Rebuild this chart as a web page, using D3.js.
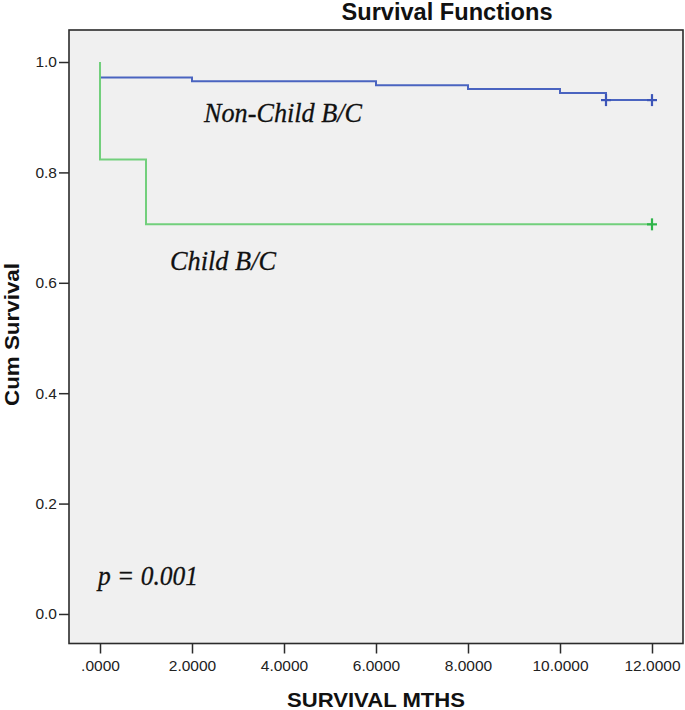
<!DOCTYPE html>
<html><head><meta charset="utf-8">
<script src="https://cdn.jsdelivr.net/npm/d3@7"></script>
<style>body{margin:0;background:#fff}svg{display:block}</style>
</head><body>
<svg id="c" width="685" height="710"></svg>
<script>
// Data
const nonChildTimes = [0, 0, 2, 6, 8, 10, 11, 12];
const nonChildSurv  = [1.0, 0.972, 0.965, 0.958, 0.951, 0.944, 0.931, 0.931];
const nonChildCensored = [11, 12];
const childTimes = [0, 0, 1, 12];
const childSurv  = [1.0, 0.8235, 0.7059, 0.7059];
const childCensored = [12];
const xTicks = [0, 2, 4, 6, 8, 10, 12];
const xTickLabels = [".0000", "2.0000", "4.0000", "6.0000", "8.0000", "10.0000", "12.0000"];
const yTicks = [0, 0.2, 0.4, 0.6, 0.8, 1.0];
const yTickLabels = ["0.0", "0.2", "0.4", "0.6", "0.8", "1.0"];

const svg = d3.select("#c");
const L = 69, R = 683, T = 30, B = 643.5;
const x = d3.scaleLinear().domain([-0.674, 12.674]).range([L, R]);
const y = d3.scaleLinear().domain([-0.0535, 1.058]).range([B, T]);

svg.append("rect").attr("x", L).attr("y", T).attr("width", R - L).attr("height", B - T)
  .attr("fill", "#f0f0f0");

const blue = "#4a64c0", green = "#72cf7c";
const line = d3.line().x(d => x(d[0])).y(d => y(d[1])).curve(d3.curveStepAfter);

function drawCurve(times, surv, cens, col, censCol) {
  const pts = times.map((t, i) => [t, surv[i]]);
  svg.append("path").attr("d", line(pts)).attr("fill", "none")
    .attr("stroke", col).attr("stroke-width", 2);
  const lastAt = t => { let v = surv[0]; times.forEach((tt, i) => { if (tt <= t) v = surv[i]; }); return v; };
  cens.forEach(t => {
    const cx = x(t), cy = y(lastAt(t));
    svg.append("line").attr("x1", cx).attr("x2", cx).attr("y1", cy - 6).attr("y2", cy + 6)
      .attr("stroke", censCol).attr("stroke-width", 2.2);
    svg.append("line").attr("x1", cx - 5).attr("x2", cx + 5).attr("y1", cy).attr("y2", cy)
      .attr("stroke", censCol).attr("stroke-width", 2.2);
  });
}
drawCurve(nonChildTimes, nonChildSurv, nonChildCensored, blue, "#3c55b8");
drawCurve(childTimes, childSurv, childCensored, green, "#2fb44a");

svg.append("rect").attr("x", L).attr("y", T).attr("width", R - L).attr("height", B - T)
  .attr("fill", "none").attr("stroke", "#2b2b2b").attr("stroke-width", 1.6);

const sans = "Liberation Sans, Arial, sans-serif";
// Axes
const yAxis = d3.axisLeft(y).tickValues(yTicks).tickFormat((d, i) => yTickLabels[i]).tickSize(10).tickPadding(2);
const gy = svg.append("g").attr("transform", `translate(${L},0)`).call(yAxis);
gy.select(".domain").remove();
gy.selectAll("line").attr("stroke", "#2b2b2b").attr("stroke-width", 1.5);
gy.selectAll("text").attr("font-family", sans).attr("font-size", 15.5).attr("fill", "#222");

const xAxis = d3.axisBottom(x).tickValues(xTicks).tickFormat((d, i) => xTickLabels[i]).tickSize(10).tickPadding(6);
const gx = svg.append("g").attr("transform", `translate(0,${B})`).call(xAxis);
gx.select(".domain").remove();
gx.selectAll("line").attr("stroke", "#2b2b2b").attr("stroke-width", 1.5);
gx.selectAll("text").attr("font-family", sans).attr("font-size", 15.5).attr("fill", "#222");

// Titles
svg.append("text").attr("x", 447).attr("y", 20).attr("text-anchor", "middle")
  .attr("font-family", sans).attr("font-weight", "bold").attr("font-size", 23)
  .attr("textLength", 211).attr("lengthAdjust", "spacingAndGlyphs")
  .attr("fill", "#111").text("Survival Functions");
svg.append("text").attr("x", 376).attr("y", 707).attr("text-anchor", "middle")
  .attr("font-family", sans).attr("font-weight", "bold").attr("font-size", 20.5)
  .attr("textLength", 178).attr("lengthAdjust", "spacingAndGlyphs")
  .attr("fill", "#111").text("SURVIVAL MTHS");
svg.append("text").attr("transform", "translate(18.5,334.5) rotate(-90)").attr("text-anchor", "middle")
  .attr("font-family", sans).attr("font-weight", "bold").attr("font-size", 20)
  .attr("textLength", 143).attr("lengthAdjust", "spacingAndGlyphs")
  .attr("fill", "#111").text("Cum Survival");

// Annotations
const ann = (t, ax, ay, w) => svg.append("text").attr("x", ax).attr("y", ay)
  .attr("font-family", "Liberation Serif, DejaVu Serif, serif").attr("font-style", "italic").attr("font-size", 27)
  .attr("fill", "#111").attr("stroke", "#111").attr("stroke-width", 0.3)
  .attr("textLength", w).attr("lengthAdjust", "spacingAndGlyphs").text(t);
ann("Non-Child B/C", 204, 121.5, 158);
ann("Child B/C", 170, 270, 106);
ann("p = 0.001", 98, 585, 100);
</script>
</body></html>
